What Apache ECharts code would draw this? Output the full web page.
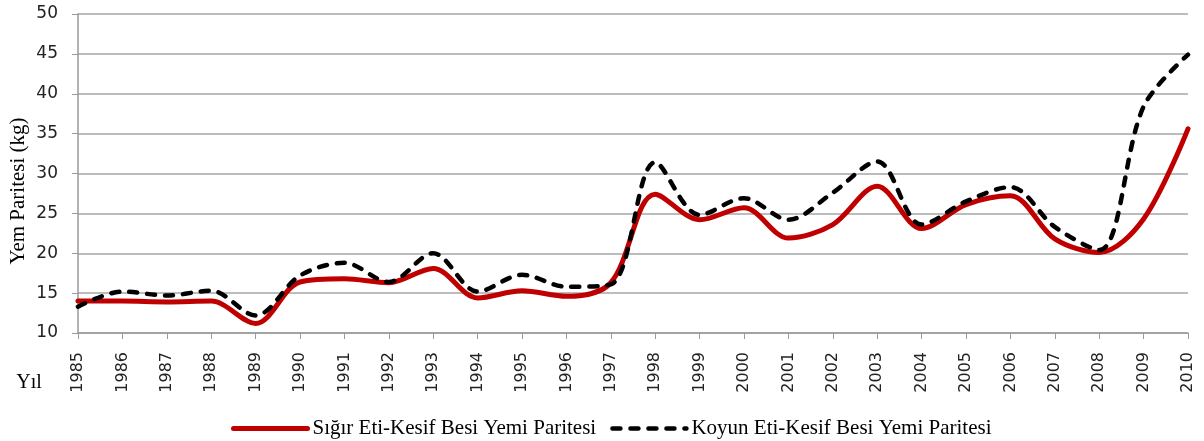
<!DOCTYPE html>
<html>
<head>
<meta charset="utf-8">
<script src="https://cdn.jsdelivr.net/npm/echarts@6/dist/echarts.min.js"></script>
<style>
    html, body { margin: 0; padding: 0; background: #fff; }
    #main { width: 1204px; height: 441px; }
</style>
</head>
<body>
<div id="main"></div>
<script>
var years = ['1985', '1986', '1987', '1988', '1989', '1990', '1991', '1992', '1993', '1994',
    '1995', '1996', '1997', '1998', '1999', '2000', '2001', '2002', '2003', '2004',
    '2005', '2006', '2007', '2008', '2009', '2010'];

// Sığır eti / kesif besi yemi
var sigir = [14.0, 14.0, 13.9, 14.0, 11.2, 16.4, 16.8, 16.3, 18.1, 14.4,
    15.3, 14.6, 16.3, 27.4, 24.2, 25.7, 21.9, 23.6, 28.4, 23.1,
    26.1, 27.2, 21.8, 20.1, 24.3, 35.6];

// Koyun eti / kesif besi yemi
var koyun = [13.3, 15.2, 14.7, 15.3, 12.2, 17.2, 18.8, 16.4, 20.0, 15.2,
    17.3, 15.8, 16.1, 31.4, 24.8, 26.9, 24.2, 27.6, 31.5, 23.6,
    26.5, 28.3, 23.3, 20.4, 38.4, 44.9];

var sigirName = 'Sığır Eti-Kesif Besi Yemi Paritesi';
var koyunName = 'Koyun Eti-Kesif Besi Yemi Paritesi';

var serif = '"Liberation Serif", "Times New Roman", serif';
var sans = '"DejaVu Sans", Verdana, sans-serif';

var redLine = { color: '#C00000', width: 5, cap: 'round' };
var blackLine = { color: '#000', width: 4.5, type: [8, 10], cap: 'round' };

var option = {
    animation: false,
    backgroundColor: '#fff',
    grid: { left: 78, right: 16, top: 14, bottom: 108 },
    legend: {
        left: 226,
        top: 413,
        itemWidth: 74,
        itemHeight: 14,
        itemGap: 14,
        itemStyle: { opacity: 0 },
        textStyle: { fontFamily: serif, fontSize: 21, color: '#000' },
        data: [
            { name: sigirName, lineStyle: redLine },
            { name: koyunName, lineStyle: blackLine }
        ]
    },
    graphic: [
        {
            type: 'text',
            x: 18,
            y: 191,
            rotation: Math.PI / 2,
            style: {
                text: 'Yem Paritesi (kg)',
                fontFamily: serif,
                fontSize: 21,
                fill: '#000',
                align: 'center',
                verticalAlign: 'middle'
            }
        },
        {
            type: 'text',
            x: 29,
            y: 383,
            style: {
                text: 'Yıl',
                fontFamily: serif,
                fontSize: 20,
                fill: '#000',
                align: 'center',
                verticalAlign: 'middle'
            }
        }
    ],
    xAxis: {
        type: 'category',
        data: years,
        boundaryGap: false,
        axisLine: { lineStyle: { color: '#9a9a9a', width: 1.5 } },
        axisTick: { show: true, length: 6, interval: 0, lineStyle: { color: '#9a9a9a' } },
        axisLabel: {
            interval: 0,
            rotate: 90,
            margin: 19,
            fontFamily: sans,
            fontSize: 16,
            color: '#222'
        },
        splitLine: { show: false }
    },
    yAxis: {
        type: 'value',
        min: 10,
        max: 50,
        interval: 5,
        axisLine: { show: true, lineStyle: { color: '#9a9a9a', width: 1.5 } },
        axisTick: { show: true, inside: false, length: 6, lineStyle: { color: '#9a9a9a' } },
        axisLabel: {
            margin: 20,
            fontFamily: sans,
            fontSize: 17,
            color: '#222'
        },
        splitLine: { lineStyle: { color: '#a6a6a6', width: 1.5 } }
    },
    series: [
        {
            name: sigirName,
            type: 'line',
            data: sigir,
            smooth: 0.33,
            symbol: 'none',
            z: 2,
            itemStyle: { color: '#C00000' },
            lineStyle: redLine
        },
        {
            name: koyunName,
            type: 'line',
            data: koyun,
            smooth: 0.33,
            symbol: 'none',
            z: 3,
            itemStyle: { color: '#000' },
            lineStyle: blackLine
        }
    ]
};

var myChart = echarts.init(document.getElementById('main'));
myChart.setOption(option);
</script>
</body>
</html>
